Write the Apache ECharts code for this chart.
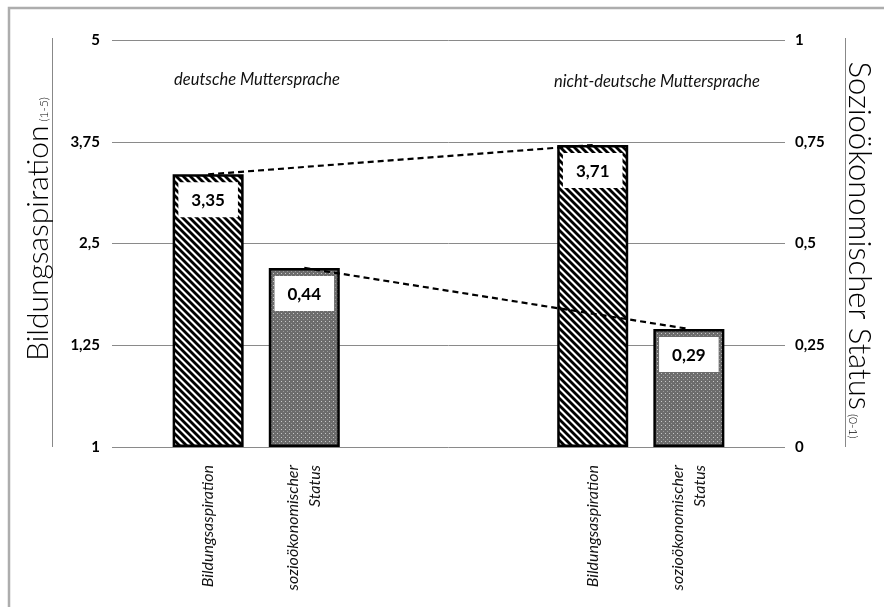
<!DOCTYPE html>
<html>
<head>
<meta charset="utf-8">
<script src="https://cdn.jsdelivr.net/npm/echarts@6/dist/echarts.min.js"></script>
<style>
  html, body { margin: 0; padding: 0; background: #fff; }
  #chart { width: 884px; height: 607px; }
</style>
</head>
<body>
<div id="chart"></div>
<script>
// Category slots along the x axis (empty slots keep the two groups apart)
const categories = ['', 'Bildungsaspiration', 'sozioökonomischer\nStatus', '', '', 'Bildungsaspiration', 'sozioökonomischer\nStatus', ''];
const groupNames = ['deutsche Muttersprache', 'nicht-deutsche Muttersprache'];
const aspirationSlots = [1, 5];
const statusSlots = [2, 6];

// Means per group
const aspirationValues = [3.35, 3.71];   // Bildungsaspiration (1-5)
const statusValues = [0.44, 0.29];       // sozioökonomischer Status (0-1)

// Axis tick labels
const leftTickLabels = ['1', '1,25', '2,5', '3,75', '5'];
const rightTickLabels = ['0', '0,25', '0,5', '0,75', '1'];

const FONT = 'Lato, "Open Sans", sans-serif';

function slotData(slots, values) {
  const arr = categories.map(() => null);
  slots.forEach((s, i) => { arr[s] = values[i]; });
  return arr;
}

function comma(v) { return String(v).replace('.', ','); }

// Diagonal hatch fill
function hatchPattern() {
  const c = document.createElement('canvas');
  const s = 7;
  c.width = s; c.height = s;
  const ctx = c.getContext('2d');
  ctx.fillStyle = '#fff';
  ctx.fillRect(0, 0, s, s);
  ctx.strokeStyle = '#000';
  ctx.lineWidth = 2.8;
  [-s, 0, s].forEach(k => {
    ctx.beginPath();
    ctx.moveTo(k - 1, -1);
    ctx.lineTo(k + s + 1, s + 1);
    ctx.stroke();
  });
  return c;
}

// Grey dotted fill
function dotPattern() {
  const c = document.createElement('canvas');
  c.width = 4; c.height = 4;
  const ctx = c.getContext('2d');
  ctx.fillStyle = '#6c6c6c';
  ctx.fillRect(0, 0, 4, 4);
  ctx.fillStyle = '#c8c8c8';
  ctx.fillRect(1, 1, 1, 1);
  ctx.fillStyle = '#9a9a9a';
  ctx.fillRect(3, 3, 1, 1);
  return c;
}

const valueLabel = {
  show: true,
  position: 'insideTop',
  distance: 8,
  formatter: p => comma(p.value),
  backgroundColor: '#fff',
  padding: [10, 13, 8, 13],
  color: '#000',
  fontFamily: FONT,
  fontWeight: 'bold',
  fontSize: 17
};

const chart = echarts.init(document.getElementById('chart'), null, { renderer: 'canvas' });

chart.setOption({
  animation: false,
  backgroundColor: '#fff',
  grid: { left: 112, right: 99, top: 40, bottom: 160 },
  xAxis: {
    type: 'category',
    data: categories,
    boundaryGap: false,
    axisLine: { show: false },
    axisTick: { show: false },
    axisLabel: {
      interval: 0,
      rotate: 90,
      margin: 18,
      fontFamily: FONT,
      fontStyle: 'italic',
      fontSize: 16,
      lineHeight: 22,
      color: '#111'
    },
    splitLine: { show: false }
  },
  yAxis: [
    {
      type: 'value',
      min: 0, max: 5, interval: 1.25,
      axisLine: { show: false },
      axisTick: { show: false },
      axisLabel: {
        margin: 12,
        fontFamily: FONT,
        fontWeight: 'bold',
        fontSize: 15,
        color: '#000',
        formatter: (v) => leftTickLabels[Math.round(v / 1.25)]
      },
      splitLine: { show: true, lineStyle: { color: '#8a8a8a', width: 1 } }
    },
    {
      type: 'value',
      min: 0, max: 1, interval: 0.25,
      position: 'right',
      axisLine: { show: false },
      axisTick: { show: false },
      axisLabel: {
        margin: 10,
        fontFamily: FONT,
        fontWeight: 'bold',
        fontSize: 15,
        color: '#000',
        formatter: (v) => rightTickLabels[Math.round(v / 0.25)]
      },
      splitLine: { show: false }
    }
  ],
  series: [
    {
      name: 'Bildungsaspiration',
      type: 'bar',
      yAxisIndex: 0,
      data: slotData(aspirationSlots, aspirationValues),
      barWidth: 71,
      barGap: '-100%',
      itemStyle: {
        color: { image: hatchPattern(), repeat: 'repeat' },
        borderColor: '#000',
        borderWidth: 2.5
      },
      label: valueLabel
    },
    {
      name: 'sozioökonomischer Status',
      type: 'bar',
      yAxisIndex: 1,
      data: slotData(statusSlots, statusValues),
      barWidth: 71,
      barGap: '-100%',
      itemStyle: {
        color: { image: dotPattern(), repeat: 'repeat' },
        borderColor: '#000',
        borderWidth: 2.5
      },
      label: valueLabel
    },
    {
      type: 'line',
      yAxisIndex: 0,
      data: slotData(aspirationSlots, aspirationValues),
      connectNulls: true,
      symbol: 'none',
      z: 5,
      lineStyle: { color: '#000', width: 2.2, type: [6, 4] }
    },
    {
      type: 'line',
      yAxisIndex: 1,
      data: slotData(statusSlots, statusValues),
      connectNulls: true,
      symbol: 'none',
      z: 5,
      lineStyle: { color: '#000', width: 2.2, type: [6, 4] }
    }
  ],
  graphic: [
    // outer frame
    {
      type: 'rect',
      shape: { x: 9, y: 8, width: 1000, height: 1000 },
      style: { fill: 'none', stroke: '#adadad', lineWidth: 2.5 },
      silent: true
    },
    // axis title rules
    {
      type: 'line',
      shape: { x1: 52.5, y1: 38, x2: 52.5, y2: 447 },
      style: { stroke: '#888', lineWidth: 1 }
    },
    {
      type: 'line',
      shape: { x1: 845.5, y1: 38, x2: 845.5, y2: 447 },
      style: { stroke: '#888', lineWidth: 1 }
    },
    // axis titles
    {
      type: 'text',
      x: 38, y: 229,
      rotation: Math.PI / 2,
      style: {
        text: '{a|Bildungsaspiration}{b|(1-5)}',
        align: 'center',
        verticalAlign: 'middle',
        rich: {
          a: { fontFamily: FONT, fontWeight: 300, fontSize: 30, color: '#222', verticalAlign: 'bottom' },
          b: { fontFamily: FONT, fontWeight: 300, fontSize: 12, color: '#444', verticalAlign: 'bottom', padding: [0, 0, 3, 4] }
        }
      }
    },
    {
      type: 'text',
      x: 859, y: 250,
      rotation: -Math.PI / 2,
      style: {
        text: '{a|Sozioökonomischer Status}{b|(0-1)}',
        align: 'center',
        verticalAlign: 'middle',
        rich: {
          a: { fontFamily: FONT, fontWeight: 300, fontSize: 31, color: '#222', verticalAlign: 'bottom' },
          b: { fontFamily: FONT, fontWeight: 300, fontSize: 12, color: '#444', verticalAlign: 'bottom', padding: [0, 0, 3, 4] }
        }
      }
    },
    // group captions
    {
      type: 'text',
      x: 257, y: 80,
      style: {
        text: groupNames[0],
        align: 'center', verticalAlign: 'middle',
        fontFamily: FONT, fontStyle: 'italic', fontSize: 16.5, fill: '#111'
      }
    },
    {
      type: 'text',
      x: 657, y: 82,
      style: {
        text: groupNames[1],
        align: 'center', verticalAlign: 'middle',
        fontFamily: FONT, fontStyle: 'italic', fontSize: 16.5, fill: '#111'
      }
    }
  ]
});
</script>
</body>
</html>
